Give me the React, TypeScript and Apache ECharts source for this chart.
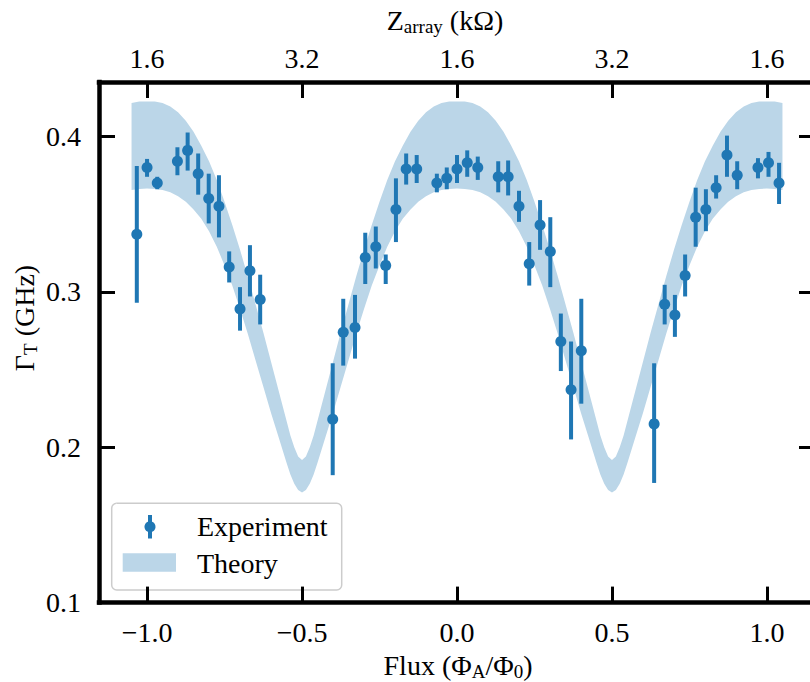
import React, { useEffect, useRef } from "react";
import * as echarts from "echarts";

// ---- Theory band ----
const bandFlux = [
  -1.05, -1.025, -1.0, -0.975, -0.95, -0.925, -0.9, -0.875, -0.85, -0.825, -0.8, -0.775, -0.75, -0.725, -0.7,
  -0.675, -0.65, -0.625, -0.6, -0.575, -0.55, -0.5375, -0.525, -0.5125, -0.5, -0.4875, -0.475, -0.4625, -0.45,
  -0.425, -0.4, -0.375, -0.35, -0.325,
  -0.3, -0.275, -0.25, -0.225, -0.2, -0.175, -0.15, -0.125, -0.1, -0.075, -0.05, -0.025, 0.0,
  0.025, 0.05, 0.075, 0.1, 0.125, 0.15, 0.175, 0.2, 0.225, 0.25, 0.275, 0.3, 0.325, 0.35, 0.375, 0.4, 0.425,
  0.45, 0.4625, 0.475, 0.4875, 0.5, 0.5125, 0.525, 0.5375, 0.55, 0.575, 0.6, 0.625, 0.65, 0.675, 0.7, 0.725,
  0.75, 0.775, 0.8, 0.825, 0.85, 0.875, 0.9, 0.925, 0.95, 0.975, 1.0, 1.025, 1.05,
];
const bandUpper = [
  0.4215, 0.4224, 0.4225, 0.4224, 0.4215, 0.4193, 0.4155, 0.41, 0.403, 0.394, 0.384, 0.372, 0.358, 0.343, 0.327,
  0.31, 0.292, 0.274, 0.255, 0.236, 0.217, 0.2075, 0.2, 0.194, 0.1918, 0.194, 0.2, 0.2075, 0.217,
  0.236, 0.255, 0.274, 0.292, 0.31,
  0.327, 0.343, 0.358, 0.372, 0.384, 0.394, 0.403, 0.41, 0.4155, 0.4193, 0.4215, 0.4224, 0.4225,
  0.4224, 0.4215, 0.4193, 0.4155, 0.41, 0.403, 0.394, 0.384, 0.372, 0.358, 0.343, 0.327, 0.31, 0.292, 0.274, 0.255,
  0.236, 0.217, 0.2075, 0.2, 0.194, 0.1918, 0.194, 0.2, 0.2075, 0.217, 0.236, 0.255, 0.274, 0.292, 0.31, 0.327,
  0.343, 0.358, 0.372, 0.384, 0.394, 0.403, 0.41, 0.4155, 0.4193, 0.4215, 0.4224, 0.4225, 0.4224, 0.4215,
];
const bandLower = [
  0.3655, 0.3662, 0.3665, 0.3662, 0.3655, 0.364, 0.3615, 0.358, 0.353, 0.347, 0.339, 0.329, 0.317, 0.304, 0.289,
  0.273, 0.256, 0.239, 0.222, 0.206, 0.19, 0.1825, 0.1765, 0.1724, 0.1708, 0.1724, 0.1765, 0.1825, 0.19,
  0.206, 0.222, 0.239, 0.256, 0.273,
  0.289, 0.304, 0.317, 0.329, 0.339, 0.347, 0.353, 0.358, 0.3615, 0.364, 0.3655, 0.3662, 0.3665,
  0.3662, 0.3655, 0.364, 0.3615, 0.358, 0.353, 0.347, 0.339, 0.329, 0.317, 0.304, 0.289, 0.273, 0.256, 0.239, 0.222,
  0.206, 0.19, 0.1825, 0.1765, 0.1724, 0.1708, 0.1724, 0.1765, 0.1825, 0.19, 0.206, 0.222, 0.239, 0.256, 0.273, 0.289,
  0.304, 0.317, 0.329, 0.339, 0.347, 0.353, 0.358, 0.3615, 0.364, 0.3655, 0.3662, 0.3665, 0.3662, 0.3655,
];

// ---- Experiment ----
const expFlux = [
  -1.033, -1.0, -0.967, -0.902, -0.869, -0.835, -0.801, -0.768, -0.735, -0.7, -0.668, -0.635,
  -0.401, -0.367, -0.329, -0.296, -0.262, -0.23, -0.197, -0.164, -0.13, -0.065, -0.033, 0.0,
  0.033, 0.067, 0.133, 0.165, 0.2, 0.233, 0.268, 0.301, 0.335, 0.368, 0.401,
  0.636, 0.67, 0.703, 0.736, 0.77, 0.803, 0.836, 0.871, 0.904, 0.971, 1.005, 1.039,
];
const expGamma = [
  0.337, 0.38, 0.37, 0.384, 0.391, 0.376, 0.36, 0.355, 0.316, 0.289, 0.3135, 0.295,
  0.218, 0.274, 0.277, 0.322, 0.329, 0.317, 0.353, 0.379, 0.379, 0.37, 0.373, 0.379,
  0.383, 0.38, 0.374, 0.374, 0.355, 0.318, 0.343, 0.326, 0.268, 0.237, 0.262,
  0.215, 0.292, 0.285, 0.3105, 0.348, 0.353, 0.367, 0.388, 0.375, 0.38, 0.383, 0.37,
];
const expLow = [
  0.293, 0.374, 0.366, 0.375, 0.378, 0.3625, 0.344, 0.335, 0.306, 0.275, 0.297, 0.279,
  0.182, 0.2525, 0.257, 0.305, 0.315, 0.305, 0.332, 0.369, 0.37, 0.364, 0.366, 0.37,
  0.374, 0.372, 0.364, 0.362, 0.345, 0.304, 0.327, 0.303, 0.249, 0.205, 0.228,
  0.177, 0.279, 0.271, 0.297, 0.329, 0.339, 0.36, 0.374, 0.366, 0.373, 0.374, 0.3565,
];
const expHigh = [
  0.381, 0.3855, 0.374, 0.393, 0.4025, 0.389, 0.376, 0.375, 0.326, 0.303, 0.33, 0.311,
  0.254, 0.2955, 0.298, 0.338, 0.342, 0.324, 0.373, 0.389, 0.388, 0.376, 0.38, 0.388,
  0.391, 0.387, 0.384, 0.3845, 0.365, 0.332, 0.359, 0.348, 0.286, 0.268, 0.2955,
  0.254, 0.3045, 0.298, 0.324, 0.367, 0.366, 0.375, 0.4005, 0.384, 0.386, 0.39, 0.383,
];

// ---- Ticks ----
const fluxTicks = [-1, -0.5, 0, 0.5, 1];
const fluxTickLabels = ["\u22121.0", "\u22120.5", "0.0", "0.5", "1.0"];
const zTickLabels = ["1.6", "3.2", "1.6", "3.2", "1.6"];
const gammaTicks = [0.1, 0.2, 0.3, 0.4];
const gammaTickLabels = ["0.1", "0.2", "0.3", "0.4"];

// ---- Axis titles: [text, isSubscript, spaceBefore] ----
const topTitle: [string, boolean, boolean][] = [["Z", false, false], ["array", true, false], ["(k\u03a9)", false, true]];
const bottomTitle: [string, boolean, boolean][] = [
  ["Flux", false, false], ["(\u03a6", false, true], ["A", true, false], ["/\u03a6", false, false], ["0", true, false], [")", false, false],
];
const leftTitle: [string, boolean, boolean][] = [["\u0393", false, false], ["T", true, false], ["(GHz)", false, true]];

const FONT = '"Liberation Serif", "Times New Roman", serif';
const BLUE = "#1f77b4";
const BAND = "#bbd6e8";
const FS = 28;
const SUB_FS = 19;
const SUB_DY = 6;

function lookup(ticks: number[], labels: string[]) {
  return (v: number) => {
    const i = ticks.findIndex((t) => Math.abs(t - v) < 1e-6);
    return i >= 0 ? labels[i] : "";
  };
}

function mathLabel(parts: [string, boolean, boolean][], cx: number, cy: number, rotation = 0) {
  const ctx = document.createElement("canvas").getContext("2d")!;
  const measure = (t: string, size: number) => {
    ctx.font = `${size}px ${FONT}`;
    return ctx.measureText(t).width;
  };
  const space = measure(" ", FS);
  const widths = parts.map(([t, sub, sp]) => measure(t, sub ? SUB_FS : FS) + (sp ? space : 0));
  const total = widths.reduce((a, b) => a + b, 0);
  let x = -total / 2;
  const children = parts.map(([t, sub, sp], i) => {
    const el = {
      type: "text",
      x: x + (sp ? space : 0),
      y: sub ? SUB_DY : 0,
      style: {
        text: t,
        fontFamily: FONT,
        fontSize: sub ? SUB_FS : FS,
        lineHeight: sub ? 16 : 26,
        fill: "#000",
        align: "left",
        verticalAlign: "middle",
      },
    };
    x += widths[i];
    return el;
  });
  return { type: "group", x: cx, y: cy, rotation, z: 50, children };
}

export default function App() {
  const ref = useRef<HTMLDivElement>(null);
  useEffect(() => {
    const chart = echarts.init(ref.current!, undefined, { renderer: "svg" });
    const axisLine = { show: true, onZero: false, lineStyle: { color: "#000", width: 4.5, cap: "square" } };
    const tickStyle = { color: "#000", width: 3 };
    const labelStyle = { fontFamily: FONT, fontSize: FS, lineHeight: 24, color: "#000" };

    chart.setOption({
      animation: false,
      backgroundColor: "#fff",
      grid: { left: 99, top: 82, right: 15, bottom: 79.4, containLabel: false },
      xAxis: [
        {
          type: "value",
          min: -1.155,
          max: 1.155,
          position: "bottom",
          axisLine,
          axisTick: { show: true, inside: true, length: 16, customValues: fluxTicks, lineStyle: tickStyle },
          axisLabel: {
            show: true,
            customValues: fluxTicks,
            formatter: lookup(fluxTicks, fluxTickLabels),
            margin: 18,
            showMinLabel: true,
            showMaxLabel: true,
            ...labelStyle,
          },
          splitLine: { show: false },
        },
        {
          type: "value",
          min: -1.155,
          max: 1.155,
          position: "top",
          axisLine,
          axisTick: { show: true, inside: true, length: 16, customValues: fluxTicks, lineStyle: tickStyle },
          axisLabel: {
            show: true,
            customValues: fluxTicks,
            formatter: lookup(fluxTicks, zTickLabels),
            margin: 12,
            showMinLabel: true,
            showMaxLabel: true,
            ...labelStyle,
          },
          splitLine: { show: false },
        },
      ],
      yAxis: [
        {
          type: "value",
          min: 0.1,
          max: 0.435,
          position: "left",
          axisLine,
          axisTick: { show: true, inside: true, length: 16, customValues: gammaTicks, lineStyle: tickStyle },
          axisLabel: {
            show: true,
            customValues: gammaTicks,
            formatter: lookup(gammaTicks, gammaTickLabels),
            margin: 18,
            showMinLabel: true,
            showMaxLabel: true,
            ...labelStyle,
          },
          splitLine: { show: false },
        },
        {
          type: "value",
          min: 0.1,
          max: 0.435,
          position: "right",
          axisLine,
          axisTick: { show: true, inside: true, length: 16, customValues: gammaTicks, lineStyle: tickStyle },
          axisLabel: { show: false },
          splitLine: { show: false },
        },
      ],
      series: [
        {
          type: "custom",
          name: "Theory",
          xAxisIndex: 0,
          yAxisIndex: 0,
          silent: true,
          z: 1,
          data: [[0, 0.3]],
          renderItem: (_params: any, api: any) => {
            const pts: number[][] = [];
            for (let i = 0; i < bandFlux.length; i++) pts.push(api.coord([bandFlux[i], bandUpper[i]]));
            for (let i = bandFlux.length - 1; i >= 0; i--) pts.push(api.coord([bandFlux[i], bandLower[i]]));
            return { type: "polygon", shape: { points: pts }, style: { fill: BAND } };
          },
        },
        {
          type: "custom",
          name: "Experiment",
          xAxisIndex: 0,
          yAxisIndex: 0,
          silent: true,
          z: 3,
          data: expFlux.map((x, i) => [x, expGamma[i], expLow[i], expHigh[i]]),
          encode: { x: 0, y: [1, 2, 3] },
          renderItem: (_params: any, api: any) => {
            const x = api.value(0);
            const c = api.coord([x, api.value(1)]);
            const lo = api.coord([x, api.value(2)]);
            const hi = api.coord([x, api.value(3)]);
            return {
              type: "group",
              children: [
                { type: "line", shape: { x1: lo[0], y1: lo[1], x2: hi[0], y2: hi[1] }, style: { stroke: BLUE, lineWidth: 4 } },
                { type: "circle", shape: { cx: c[0], cy: c[1], r: 5.5 }, style: { fill: BLUE } },
              ],
            };
          },
        },
      ],
      graphic: [
        mathLabel(topTitle, 445, 20),
        mathLabel(bottomTitle, 458, 665),
        mathLabel(leftTitle, 24, 318, Math.PI / 2),
        {
          type: "group",
          z: 100,
          children: [
            {
              type: "rect",
              shape: { x: 111.7, y: 503.3, width: 230, height: 86.7, r: 5 },
              style: { fill: "rgba(255,255,255,0.8)", stroke: "#cccccc", lineWidth: 1.5 },
            },
            { type: "line", shape: { x1: 150, y1: 515, x2: 150, y2: 538.5 }, style: { stroke: BLUE, lineWidth: 4 } },
            { type: "circle", shape: { cx: 150, cy: 526.7, r: 5.5 }, style: { fill: BLUE } },
            {
              type: "text",
              x: 197,
              y: 526.7,
              style: { text: "Experiment", fontFamily: FONT, fontSize: FS, fill: "#000", align: "left", verticalAlign: "middle" },
            },
            { type: "rect", shape: { x: 122.7, y: 553.3, width: 53.3, height: 18.4 }, style: { fill: BAND } },
            {
              type: "text",
              x: 197,
              y: 563,
              style: { text: "Theory", fontFamily: FONT, fontSize: FS, fill: "#000", align: "left", verticalAlign: "middle" },
            },
          ],
        },
      ],
    });
    return () => chart.dispose();
  }, []);
  return (
    <div style={{ position: "absolute", left: 0, top: 0, width: 810, height: 682, overflow: "hidden", background: "#fff" }}>
      <div ref={ref} style={{ width: 830, height: 682 }} />
    </div>
  );
}
